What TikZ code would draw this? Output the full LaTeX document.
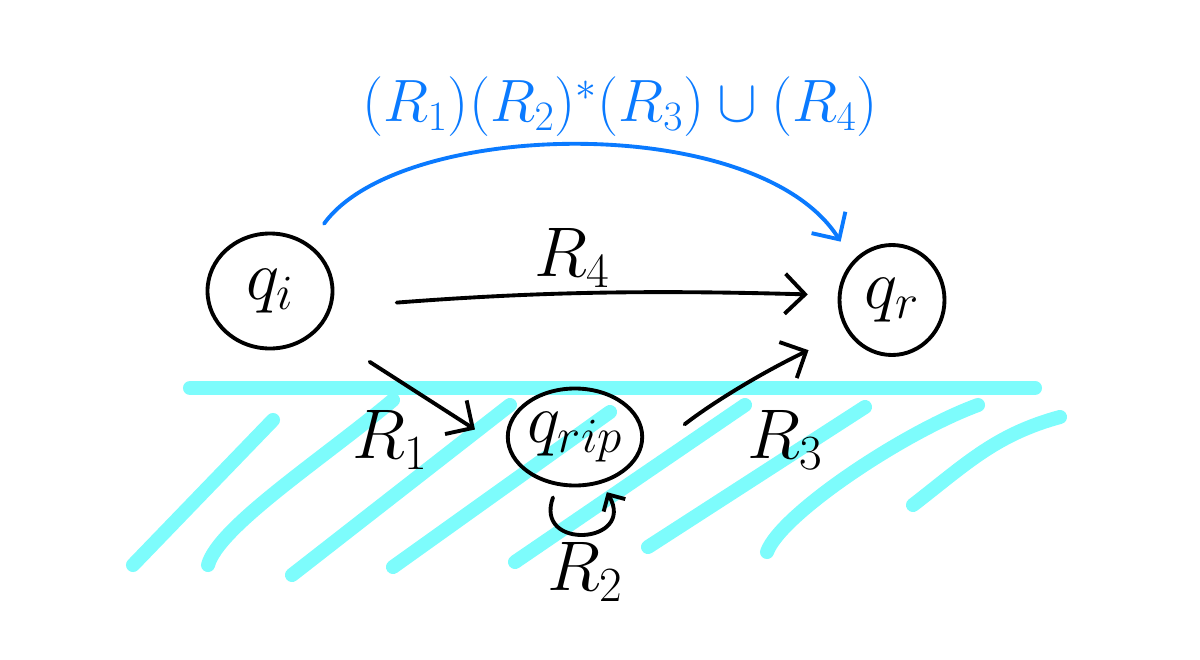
\documentclass[tikz,border=0pt]{standalone}
\usepackage{fix-cm}
\usepackage{amsmath, amssymb}
\usepackage{tikz}
\usetikzlibrary{calc,arrows.meta,shapes.geometric}
\definecolor{hatchcyan}{RGB}{125,252,252}
\definecolor{regexblue}{RGB}{10,122,255}

\begin{document}
\begin{tikzpicture}[
  state/.style={ellipse, draw, line width=2.2pt, inner sep=0pt},
  lbl/.style={font=\fontsize{40}{44}\selectfont},
  hatch/.style={hatchcyan, line width=8pt, line cap=round},
  trans/.style={->, line width=2.2pt, line cap=round},
  >={Straight Barb[length=4mm,width=8mm]}
]
\useasboundingbox (0,0) rectangle (24,13.18);
% the wall the ripped state sits behind
\draw[hatch] (3.8,5.42) -- (20.7,5.42);
\draw[hatch] (2.66,1.88) -- (5.46,4.78);
\draw[hatch] (4.16,1.88) .. controls (4.37,2.65) and (6.48,4.02) .. (7.86,5.18);
\draw[hatch] (5.84,1.68) -- (10.2,5.08);
\draw[hatch] (7.86,1.84) -- (12.2,4.94);
\draw[hatch] (10.3,1.94) -- (14.9,5.08);
\draw[hatch] (12.96,2.24) -- (17.3,5.04);
\draw[hatch] (15.34,2.14) .. controls (15.61,2.89) and (18.06,4.53) .. (19.56,5.08);
\draw[hatch] (18.26,3.08) .. controls (19.32,3.9) and (19.91,4.49) .. (21.2,4.84);

% states
\node[state, minimum width=2.5cm, minimum height=2.3cm, lbl] (qi) at (5.4,7.36) {$q_i$};
\node[state, minimum width=2.1cm, minimum height=2.2cm, lbl] (qr) at (17.84,7.18) {$q_r$};
\node[state, minimum width=2.4cm, minimum height=1.94cm, lbl] (qrip) at (11.5,4.44) {$q_{rip}$};

% transitions
\draw[trans, shorten <=1.3cm, shorten >=0.6cm] (qi.-15) to[bend left=3] (qr.175);
\draw[trans, shorten <=1.2cm, shorten >=0.8cm] (qi.-38) -- (qrip.192);
\draw[trans, shorten <=1.3cm, shorten >=0.85cm] (qrip.-25) to[bend left=6] (qr.215);
\draw[trans, >={Straight Barb[length=2.5mm,width=5mm]}, shorten <=0.25cm, shorten >=0.2cm]
  (qrip.-110) to[out=-110, in=-60, looseness=4] (qrip.-60);
\node[lbl] (r4) at (11.44,8.02) {$R_4$};
\node[lbl] (r1) at (7.8,4.38) {$R_1$};
\node[lbl] (r3) at (15.7,4.38) {$R_3$};
\node[lbl] (r2) at (11.7,1.74) {$R_2$};

% ripped result
\draw[trans, regexblue, shorten <=0.5cm, shorten >=0.45cm]
  (qi.50) .. controls +(1.8,2.5) and +(-1.9,3) .. (qr.135);
\node[regexblue, font=\fontsize{34}{40}\selectfont] (rx) at (12.4,11.04) {$(R_1)(R_2)^*(R_3)\cup(R_4)$};
\end{tikzpicture}
\end{document}
